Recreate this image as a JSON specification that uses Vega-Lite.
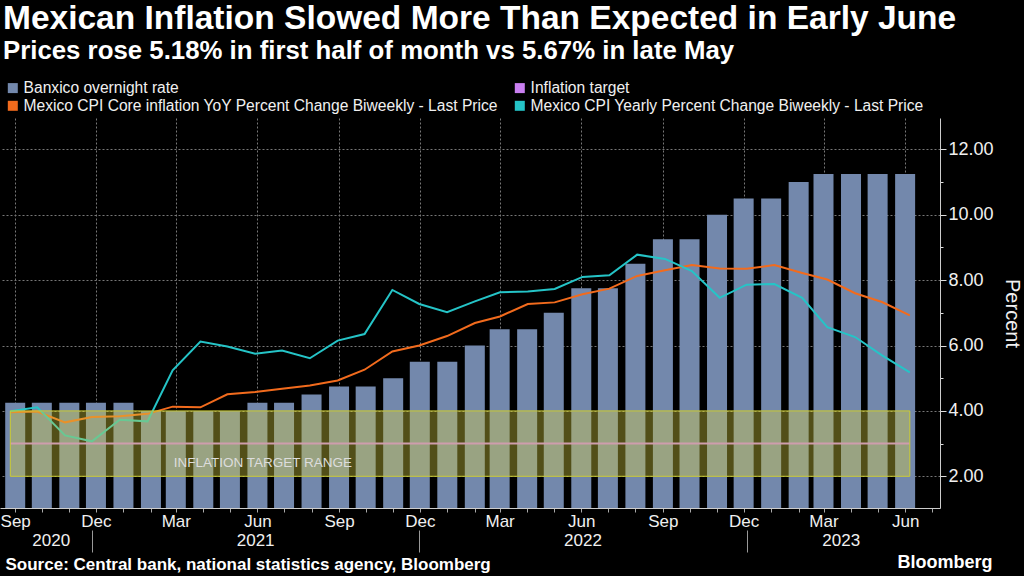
{
  "$schema": "https://vega.github.io/schema/vega-lite/v6.json",
  "width": 940,
  "height": 390,
  "autosize": {"type": "none"},
  "padding": {"left": 0, "top": 118, "right": 84, "bottom": 68},
  "background": "#000000",
  "title": {
    "text": "Mexican Inflation Slowed More Than Expected in Early June",
    "subtitle": "Prices rose 5.18% in first half of month vs 5.67% in late May",
    "anchor": "start",
    "frame": "group",
    "dx": 3,
    "offset": 15,
    "font": "Liberation Sans",
    "fontSize": 33.5,
    "fontWeight": "bold",
    "color": "#ffffff",
    "subtitleFont": "Liberation Sans",
    "subtitleFontSize": 25.8,
    "subtitleFontWeight": "bold",
    "subtitleColor": "#ffffff",
    "subtitlePadding": 3
  },
  "config": {
    "view": {"stroke": null},
    "font": "Liberation Sans",
    "axis": {"labelFont": "Liberation Sans", "titleFont": "Liberation Sans"},
    "legend": {"labelFont": "Liberation Sans"}
  },
  "datasets": {
    "rate": [
      {"date": "2020-09-01", "value": 4.25}, {"date": "2020-10-01", "value": 4.25}, {"date": "2020-11-01", "value": 4.25}, {"date": "2020-12-01", "value": 4.25},
      {"date": "2021-01-01", "value": 4.25}, {"date": "2021-02-01", "value": 4.0}, {"date": "2021-03-01", "value": 4.0}, {"date": "2021-04-01", "value": 4.0},
      {"date": "2021-05-01", "value": 4.0}, {"date": "2021-06-01", "value": 4.25}, {"date": "2021-07-01", "value": 4.25}, {"date": "2021-08-01", "value": 4.5},
      {"date": "2021-09-01", "value": 4.75}, {"date": "2021-10-01", "value": 4.75}, {"date": "2021-11-01", "value": 5.0}, {"date": "2021-12-01", "value": 5.5},
      {"date": "2022-01-01", "value": 5.5}, {"date": "2022-02-01", "value": 6.0}, {"date": "2022-03-01", "value": 6.5}, {"date": "2022-04-01", "value": 6.5},
      {"date": "2022-05-01", "value": 7.0}, {"date": "2022-06-01", "value": 7.75}, {"date": "2022-07-01", "value": 7.75}, {"date": "2022-08-01", "value": 8.5},
      {"date": "2022-09-01", "value": 9.25}, {"date": "2022-10-01", "value": 9.25}, {"date": "2022-11-01", "value": 10.0}, {"date": "2022-12-01", "value": 10.5},
      {"date": "2023-01-01", "value": 10.5}, {"date": "2023-02-01", "value": 11.0}, {"date": "2023-03-01", "value": 11.25}, {"date": "2023-04-01", "value": 11.25},
      {"date": "2023-05-01", "value": 11.25}, {"date": "2023-06-01", "value": 11.25}
    ],
    "core": [
      {"date": "2020-09-01", "value": 3.96}, {"date": "2020-10-01", "value": 3.98}, {"date": "2020-11-01", "value": 3.65}, {"date": "2020-12-01", "value": 3.81},
      {"date": "2021-01-01", "value": 3.84}, {"date": "2021-02-01", "value": 3.91}, {"date": "2021-03-01", "value": 4.13}, {"date": "2021-04-01", "value": 4.11},
      {"date": "2021-05-01", "value": 4.51}, {"date": "2021-06-01", "value": 4.58}, {"date": "2021-07-01", "value": 4.68}, {"date": "2021-08-01", "value": 4.78},
      {"date": "2021-09-01", "value": 4.93}, {"date": "2021-10-01", "value": 5.26}, {"date": "2021-11-01", "value": 5.82}, {"date": "2021-12-01", "value": 6.0},
      {"date": "2022-01-01", "value": 6.29}, {"date": "2022-02-01", "value": 6.69}, {"date": "2022-03-01", "value": 6.89}, {"date": "2022-04-01", "value": 7.27},
      {"date": "2022-05-01", "value": 7.32}, {"date": "2022-06-01", "value": 7.57}, {"date": "2022-07-01", "value": 7.74}, {"date": "2022-08-01", "value": 8.13},
      {"date": "2022-09-01", "value": 8.3}, {"date": "2022-10-01", "value": 8.46}, {"date": "2022-11-01", "value": 8.36}, {"date": "2022-12-01", "value": 8.35},
      {"date": "2023-01-01", "value": 8.46}, {"date": "2023-02-01", "value": 8.22}, {"date": "2023-03-01", "value": 8.02}, {"date": "2023-04-01", "value": 7.6},
      {"date": "2023-05-01", "value": 7.33}, {"date": "2023-06-01", "value": 6.92}
    ],
    "headline": [
      {"date": "2020-09-01", "value": 3.99}, {"date": "2020-10-01", "value": 4.11}, {"date": "2020-11-01", "value": 3.25}, {"date": "2020-12-01", "value": 3.07},
      {"date": "2021-01-01", "value": 3.73}, {"date": "2021-02-01", "value": 3.68}, {"date": "2021-03-01", "value": 5.24}, {"date": "2021-04-01", "value": 6.12},
      {"date": "2021-05-01", "value": 5.97}, {"date": "2021-06-01", "value": 5.75}, {"date": "2021-07-01", "value": 5.85}, {"date": "2021-08-01", "value": 5.61},
      {"date": "2021-09-01", "value": 6.15}, {"date": "2021-10-01", "value": 6.35}, {"date": "2021-11-01", "value": 7.7}, {"date": "2021-12-01", "value": 7.27},
      {"date": "2022-01-01", "value": 7.02}, {"date": "2022-02-01", "value": 7.35}, {"date": "2022-03-01", "value": 7.63}, {"date": "2022-04-01", "value": 7.65},
      {"date": "2022-05-01", "value": 7.73}, {"date": "2022-06-01", "value": 8.1}, {"date": "2022-07-01", "value": 8.15}, {"date": "2022-08-01", "value": 8.78},
      {"date": "2022-09-01", "value": 8.65}, {"date": "2022-10-01", "value": 8.28}, {"date": "2022-11-01", "value": 7.46}, {"date": "2022-12-01", "value": 7.86},
      {"date": "2023-01-01", "value": 7.88}, {"date": "2023-02-01", "value": 7.46}, {"date": "2023-03-01", "value": 6.56}, {"date": "2023-04-01", "value": 6.26},
      {"date": "2023-05-01", "value": 5.7}, {"date": "2023-06-01", "value": 5.18}
    ],
    "target": [{"start": "2020-09-01", "end": "2023-06-01", "value": 3}],
    "range": [{"start": "2020-09-01", "end": "2023-06-01", "value": 4, "lo": 2}],
    "note": [{"date": "2021-06-09T16:00:00Z", "value": 2.42, "label": "INFLATION TARGET RANGE"}]
  },
  "encoding": {
    "y": {
      "field": "value",
      "type": "quantitative",
      "scale": {"domain": [1.03, 12.96], "zero": false, "nice": false},
      "axis": {
        "orient": "right",
        "values": [2, 3, 4, 5, 6, 7, 8, 9, 10, 11, 12],
        "labelExpr": "datum.value % 2 == 0 ? format(datum.value, '.2f') : ''",
        "labelColor": "#f0f0f0",
        "labelFontSize": 18,
        "labelPadding": 2,
        "tickColor": "#dddddd",
        "tickSize": {"condition": {"test": "datum.value % 2 == 0", "value": 6}, "value": 3},
        "domainColor": "#cccccc",
        "grid": true,
        "gridColor": "#777777",
        "gridDash": [2, 2],
        "gridOpacity": {"condition": {"test": "datum.value % 2 == 0", "value": 1}, "value": 0},
        "title": "Percent",
        "titleColor": "#f0f0f0",
        "titleFontSize": 20,
        "titleFontWeight": "normal",
        "titlePadding": 8
      }
    }
  },
  "layer": [
    {
      "data": {"name": "rate"},
      "mark": {"type": "bar", "width": 20, "clip": true},
      "encoding": {
        "x": {
          "field": "date", "type": "temporal",
          "scale": {"type": "utc", "domain": [{"year": 2020, "month": 8, "date": 20, "hours": 12, "utc": true}, {"year": 2023, "month": 7, "date": 4, "hours": 16, "utc": true}]},
          "axis": {
            "orient": "bottom",
            "tickCount": {"interval": "month", "step": 1},
            "labelExpr": "indexof([2,5,8,11], utcmonth(datum.value)) >= 0 ? utcFormat(datum.value, '%b') : ''",
            "labelOverlap": false,
            "labelFlush": true,
            "labelFlushOffset": 3,
            "labelColor": "#f0f0f0",
            "labelFontSize": 17,
            "labelPadding": 1,
            "tickSize": 4,
            "tickColor": "#aaaaaa",
            "domainColor": "#cccccc",
            "grid": true,
            "gridColor": "#777777",
            "gridDash": [2, 2],
            "gridOpacity": {"condition": {"test": "indexof([2,5,8,11], utcmonth(datum.value)) >= 0", "value": 1}, "value": 0},
            "title": null
          }
        },
        "color": {
          "datum": "Banxico overnight rate",
          "type": "nominal",
          "scale": {
            "domain": ["Banxico overnight rate", "Inflation target", "Mexico CPI Core inflation YoY Percent Change Biweekly - Last Price", "Mexico CPI Yearly Percent Change Biweekly - Last Price"],
            "range": ["#7388ac", "#c97ff0", "#f26b1d", "#25c4c7"]
          },
          "legend": {
            "title": null,
            "orient": "none",
            "legendX": 5,
            "legendY": -38,
            "direction": "horizontal",
            "columns": 2,
            "columnPadding": 14,
            "rowPadding": 1,
            "symbolType": "square",
            "symbolSize": 100,
            "symbolStrokeWidth": 0,
            "labelOffset": 3,
            "labelFontSize": 15.6,
            "labelColor": "#f0f0f0",
            "labelLimit": 0,
            "encode": {"symbols": {"update": {"fill": {"scale": "color", "field": "value"}, "fillOpacity": {"value": 1}, "opacity": {"value": 1}, "strokeWidth": {"value": 0}, "shape": {"value": "square"}}}}
          }
        }
      }
    },
    {
      "data": {"name": "target"},
      "mark": {"type": "rule", "strokeWidth": 2},
      "encoding": {
        "x": {"field": "start", "type": "temporal", "scale": {"type": "utc", "domain": [{"year": 2020, "month": 8, "date": 20, "hours": 12, "utc": true}, {"year": 2023, "month": 7, "date": 4, "hours": 16, "utc": true}]}, "axis": null},
        "x2": {"field": "end"},
        "color": {"datum": "Inflation target", "type": "nominal"}
      }
    },
    {
      "data": {"name": "core"},
      "mark": {"type": "line", "strokeWidth": 2},
      "encoding": {
        "x": {
          "field": "date", "type": "temporal",
          "scale": {"type": "utc", "domain": [{"year": 2020, "month": 8, "date": 20, "hours": 12, "utc": true}, {"year": 2023, "month": 7, "date": 4, "hours": 16, "utc": true}]},
          "axis": {
            "orient": "bottom",
            "values": [{"year": 2020, "month": 10, "date": 16, "utc": true}, {"year": 2021, "month": 6, "date": 1, "utc": true}, {"year": 2022, "month": 6, "date": 1, "utc": true}, {"year": 2023, "month": 3, "date": 16, "utc": true}],
            "labelExpr": "utcFormat(datum.value, '%Y')",
            "ticks": false,
            "tickSize": 0,
            "domain": false,
            "grid": false,
            "labelPadding": 24,
            "labelFontSize": 17,
            "labelColor": "#f0f0f0",
            "labelOverlap": false,
            "labelBound": false,
            "title": "Source: Central bank, national statistics agency, Bloomberg",
            "titleX": 5,
            "titleY": 61,
            "titleAlign": "left",
            "titleBaseline": "alphabetic",
            "titleFontSize": 17,
            "titleFontWeight": "bold",
            "titleColor": "#ffffff"
          }
        },
        "color": {"datum": "Mexico CPI Core inflation YoY Percent Change Biweekly - Last Price", "type": "nominal"}
      }
    },
    {
      "data": {"name": "headline"},
      "mark": {"type": "line", "strokeWidth": 2},
      "encoding": {
        "x": {
          "field": "date", "type": "temporal",
          "scale": {"type": "utc", "domain": [{"year": 2020, "month": 8, "date": 20, "hours": 12, "utc": true}, {"year": 2023, "month": 7, "date": 4, "hours": 16, "utc": true}]},
          "axis": {
            "orient": "bottom",
            "values": [{"year": 2020, "month": 12, "date": 1, "utc": true}, {"year": 2021, "month": 12, "date": 1, "utc": true}, {"year": 2022, "month": 12, "date": 1, "utc": true}],
            "labels": false,
            "domain": false,
            "grid": false,
            "ticks": true,
            "tickSize": 22,
            "offset": 22,
            "tickColor": "#999999",
            "title": "Bloomberg",
            "titleX": 992,
            "titleY": 37,
            "titleAlign": "right",
            "titleBaseline": "alphabetic",
            "titleFontSize": 18,
            "titleFontWeight": "bold",
            "titleColor": "#ffffff"
          }
        },
        "color": {"datum": "Mexico CPI Yearly Percent Change Biweekly - Last Price", "type": "nominal"}
      }
    },
    {
      "data": {"name": "range"},
      "mark": {"type": "rect", "fill": "#d8d040", "fillOpacity": 0.38, "stroke": "#cccc33", "strokeWidth": 1},
      "encoding": {
        "x": {"field": "start", "type": "temporal", "scale": {"type": "utc", "domain": [{"year": 2020, "month": 8, "date": 20, "hours": 12, "utc": true}, {"year": 2023, "month": 7, "date": 4, "hours": 16, "utc": true}]}, "axis": null},
        "x2": {"field": "end"},
        "y2": {"field": "lo"}
      }
    },
    {
      "data": {"name": "note"},
      "mark": {"type": "text", "font": "Liberation Sans", "fontSize": 13.5, "color": "#dddddd", "align": "center", "baseline": "middle"},
      "encoding": {
        "x": {"field": "date", "type": "temporal", "scale": {"type": "utc", "domain": [{"year": 2020, "month": 8, "date": 20, "hours": 12, "utc": true}, {"year": 2023, "month": 7, "date": 4, "hours": 16, "utc": true}]}, "axis": null},
        "text": {"field": "label"}
      }
    }
  ],
  "resolve": {"scale": {"x": "independent"}, "axis": {"x": "independent"}}
}
